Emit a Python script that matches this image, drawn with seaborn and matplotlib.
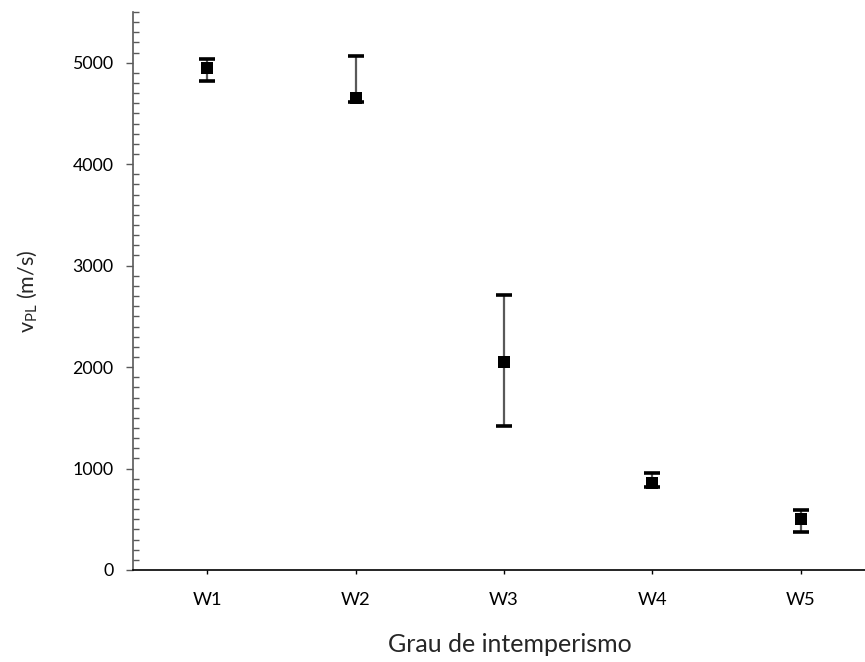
import matplotlib
matplotlib.use("Agg")
import matplotlib.pyplot as plt
import seaborn as sns
import pandas as pd
import numpy as np
from matplotlib.ticker import MultipleLocator

categories = ["W1", "W2", "W3", "W4", "W5"]
vpl_mean = [4950, 4650, 2055, 862, 498]
vpl_upper = [5040, 5065, 2715, 960, 595]
vpl_lower = [4820, 4612, 1422, 815, 370]

df = pd.DataFrame({"grau": categories, "vpl": vpl_mean,
                   "up": vpl_upper, "lo": vpl_lower})

sns.set_theme(style="ticks")
plt.rcParams['font.family'] = ['Lato', 'DejaVu Sans']
plt.rcParams['mathtext.fontset'] = 'custom'
plt.rcParams['mathtext.rm'] = 'Lato'

fig = plt.figure(figsize=(8.65, 6.62), dpi=100)
ax = fig.add_axes([133/865, 92/662, (875-133)/865, (570-12)/662])

xpos = np.arange(len(categories))
yerr = np.array([np.array(vpl_mean) - np.array(vpl_lower),
                 np.array(vpl_upper) - np.array(vpl_mean)])
# stems
ax.errorbar(xpos, df["vpl"], yerr=yerr, fmt="none", ecolor="#595959",
            elinewidth=1.6, capsize=0, zorder=2)
# caps
ax.errorbar(xpos, df["vpl"], yerr=yerr, fmt="none", ecolor="black",
            elinewidth=0, capsize=5.5, capthick=2.6, zorder=3)

sns.scatterplot(data=df, x="grau", y="vpl", marker="s", s=75, color="black",
                edgecolor="black", linewidth=0, ax=ax, zorder=4)

ax.set_xlim(-0.5, 4.5)
ax.set_ylim(0, 5500)
ax.set_yticks([0, 1000, 2000, 3000, 4000, 5000])
ax.yaxis.set_minor_locator(MultipleLocator(100))
ax.tick_params(axis="y", which="major", direction="out", length=5, width=1,
               color="#595959", labelsize=12.8, pad=9, labelcolor="black")
ax.tick_params(axis="y", which="minor", direction="in", length=4, width=1,
               color="#595959")
ax.tick_params(axis="x", which="major", direction="out", length=3, width=1,
               color="black", labelsize=13.2, pad=13, labelcolor="black")

for s in ["top", "right"]:
    ax.spines[s].set_visible(False)
ax.spines["left"].set_color("#595959")
ax.spines["bottom"].set_color("black")
ax.spines["left"].set_linewidth(1.2)
ax.spines["bottom"].set_linewidth(1.2)

ax.set_xlabel("Grau de intemperismo", fontsize=18)
ax.set_ylabel(r"v$_{\mathregular{PL}}$ (m/s)", fontsize=15.5)
ax.xaxis.set_label_coords((510 - 133) / 742, (570 - 633) / 558)
ax.yaxis.set_label_coords((40 - 133) / 742, 0.5)

fig.savefig("out.png", dpi=100)
